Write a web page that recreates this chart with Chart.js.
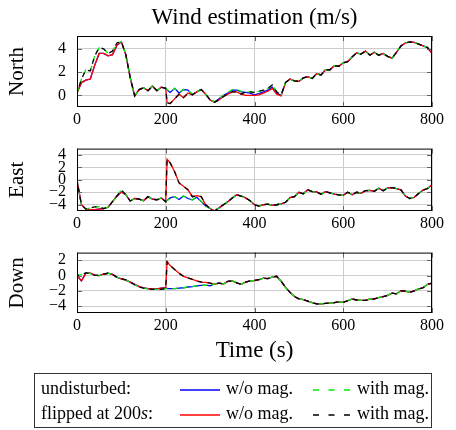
<!DOCTYPE html>
<html>
<head>
<meta charset="utf-8">
<script src="https://cdn.jsdelivr.net/npm/chart.js@4.4.1/dist/chart.umd.min.js"></script>
<style>
  body { margin: 0; background: #fff; width: 456px; height: 430px; position: relative; overflow: hidden;
         font-family: "Liberation Serif", "DejaVu Serif", serif; }
  canvas { position: absolute; left: 0; }
  #legend { position: absolute; left: 34px; top: 373px; width: 398px; height: 55px;
            border: 1px solid #333; box-sizing: border-box; }
  .lt { position: absolute; font-size: 18px; line-height: 20px; white-space: nowrap; color: #000; }
  #legend svg { position: absolute; }
</style>
</head>
<body>
<canvas id="north" width="456" height="129" style="top:0px"></canvas>
<canvas id="east" width="456" height="105" style="top:128px"></canvas>
<canvas id="down" width="456" height="133" style="top:232px"></canvas>
<div id="legend"></div>

<script>
// time axis (s)
const time = [0,10,20,30,40,50,60,70,80,90,100,110,120,130,140,150,160,170,180,190,
  200,203,210,220,230,240,250,260,270,280,290,300,310,320,330,340,350,360,370,380,390,
  400,410,420,430,440,450,460,470,480,490,500,510,520,530,540,550,560,570,580,590,
  600,610,620,630,640,650,660,670,680,690,700,710,720,730,740,750,760,770,780,790,800];

const timeTicks = [0, 200, 400, 600, 800];
const northTicks = [0, 2, 4];
const eastTicks = [-4, -2, 0, 2, 4];
const downTicks = [-4, -2, 0, 2];

// North
const northBlue = [0.2,1.1,1.3,1.4,2.6,3.6,3.6,3.4,3.5,4.3,4.6,3.5,1.5,-0.05,0.5,0.65,0.4,0.8,0.4,0.7,
  0.6,0.45,
  0.25,0.6,0.2,0.5,0.45,0.05,0.3,0.5,0.1,
  -0.4,-0.55,-0.3,0.0,0.2,0.45,0.45,0.3,0.25,0.2,
  0.05,0.15,0.3,0.45,0.7,0.2,0.0,1.1,1.4,1.25,
  1.2,1.5,1.6,1.45,1.85,1.75,2.2,2.2,2.55,2.5,
  2.8,2.9,3.3,3.65,3.55,3.8,3.45,3.7,3.45,3.6,
  3.35,3.2,3.7,4.25,4.5,4.6,4.55,4.4,4.25,4.1,
  3.6];
const northGreen = [0.2,1.4,2.2,2.1,3.4,4.1,4.0,3.6,3.8,4.5,4.6,3.5,1.5,-0.05,0.5,0.65,0.4,0.8,0.4,0.7,
  0.6,0.5,
  0.3,0.6,0.25,0.5,0.45,0.1,0.3,0.5,0.1,
  -0.4,-0.55,-0.3,0.0,0.25,0.5,0.5,0.35,0.3,0.3,
  0.25,0.35,0.45,0.6,0.9,0.3,0.05,1.1,1.4,1.25,
  1.2,1.5,1.6,1.45,1.85,1.75,2.2,2.2,2.55,2.5,
  2.8,2.9,3.3,3.65,3.55,3.8,3.45,3.7,3.45,3.6,
  3.35,3.2,3.7,4.25,4.5,4.6,4.55,4.4,4.25,4.1,
  3.6];
const northRed = [0.2,1.1,1.3,1.4,2.6,3.6,3.6,3.4,3.5,4.3,4.6,3.5,1.5,-0.05,0.5,0.65,0.4,0.8,0.4,0.7,
  0.6,-0.65,
  -0.7,-0.3,0.1,-0.2,0.2,0.05,0.3,0.5,0.1,
  -0.4,-0.6,-0.4,-0.1,0.1,0.3,0.3,0.1,0.0,0.0,
  0.0,0.05,0.2,0.35,0.6,0.1,-0.05,1.1,1.4,1.25,
  1.2,1.5,1.6,1.45,1.85,1.75,2.2,2.2,2.55,2.5,
  2.8,2.9,3.3,3.65,3.55,3.8,3.45,3.7,3.45,3.6,
  3.35,3.2,3.7,4.25,4.5,4.6,4.55,4.4,4.25,4.1,
  3.6];
const northBlack = [0.2,1.4,2.2,2.1,3.4,4.1,4.0,3.6,3.8,4.5,4.6,3.5,1.5,-0.05,0.5,0.65,0.4,0.8,0.4,0.7,
  0.6,-0.65,
  -0.7,-0.3,0.1,-0.2,0.2,0.05,0.3,0.5,0.1,
  -0.4,-0.6,-0.4,-0.1,0.1,0.3,0.3,0.1,0.3,0.3,
  0.25,0.35,0.45,0.6,0.9,0.3,0.05,1.1,1.4,1.25,
  1.2,1.5,1.6,1.45,1.85,1.75,2.2,2.2,2.55,2.5,
  2.8,2.9,3.3,3.65,3.55,3.8,3.45,3.7,3.45,3.6,
  3.35,3.2,3.7,4.25,4.5,4.6,4.55,4.4,4.25,4.1,
  3.6];

// East
const eastBlue = [-0.1,-4.0,-4.7,-4.8,-4.8,-4.7,-4.6,-4.4,-3.5,-2.6,-1.95,-2.4,-3.4,-3.0,-3.1,-3.35,-2.7,-3.1,-3.2,-2.9,
  -3.5,-3.3,
  -2.9,-2.7,-3.15,-2.6,-3.0,-3.2,-2.8,-3.5,-4.2,
  -4.6,-5.0,-4.5,-4.0,-3.5,-2.9,-2.4,-2.6,-2.9,-3.35,
  -4.0,-4.2,-4.0,-3.9,-4.1,-4.0,-3.85,-3.6,-2.85,-2.7,
  -2.0,-2.25,-1.6,-1.9,-1.95,-2.3,-1.9,-2.1,-2.3,-2.4,
  -2.5,-2.0,-2.4,-2.0,-2.15,-1.75,-1.7,-1.85,-1.35,-1.75,
  -1.3,-1.25,-1.4,-1.6,-2.6,-3.0,-2.8,-2.2,-1.65,-1.4,
  -0.8];
const eastGreen = [-0.1,-4.0,-4.7,-4.5,-4.35,-4.3,-4.6,-4.4,-3.5,-2.6,-1.6,-2.4,-3.4,-3.0,-3.1,-3.35,-2.7,-3.1,-3.2,-2.9,
  -3.5,-3.3,
  -2.9,-2.7,-3.15,-2.6,-3.0,-3.2,-2.8,-3.5,-4.2,
  -4.6,-5.0,-4.5,-4.0,-3.5,-2.9,-2.4,-2.6,-2.9,-3.35,
  -4.0,-4.2,-4.0,-3.9,-4.1,-4.0,-3.85,-3.6,-2.85,-2.7,
  -2.0,-2.25,-1.6,-1.9,-1.95,-2.3,-1.9,-2.1,-2.3,-2.4,
  -2.5,-2.0,-2.4,-2.0,-2.15,-1.75,-1.7,-1.85,-1.35,-1.75,
  -1.3,-1.25,-1.4,-1.6,-2.6,-3.0,-2.8,-2.2,-1.65,-1.4,
  -0.8];
const eastRed = [-0.1,-4.0,-4.7,-4.8,-4.8,-4.7,-4.6,-4.4,-3.5,-2.6,-1.95,-2.4,-3.4,-3.0,-3.1,-3.35,-2.7,-3.1,-3.2,-2.9,
  -3.5,3.3,
  2.7,1.3,-0.5,-1.05,-1.6,-2.7,-2.55,-2.7,-4.0,
  -4.6,-5.0,-4.5,-4.0,-3.5,-2.9,-2.4,-2.6,-2.9,-3.35,
  -4.0,-4.2,-4.0,-3.9,-4.1,-4.0,-3.85,-3.6,-2.85,-2.7,
  -2.0,-2.25,-1.6,-1.9,-1.95,-2.3,-1.9,-2.1,-2.3,-2.4,
  -2.5,-2.0,-2.4,-2.0,-2.15,-1.75,-1.7,-1.85,-1.35,-1.75,
  -1.3,-1.25,-1.4,-1.6,-2.6,-3.0,-2.8,-2.2,-1.65,-1.4,
  -0.8];
const eastBlack = [-0.1,-4.0,-4.7,-4.5,-4.35,-4.3,-4.6,-4.4,-3.5,-2.6,-1.6,-2.4,-3.4,-3.0,-3.1,-3.35,-2.7,-3.1,-3.2,-2.9,
  -3.5,3.3,
  2.7,1.3,-0.5,-1.05,-1.6,-2.7,-2.55,-2.7,-4.0,
  -4.6,-5.0,-4.5,-4.0,-3.5,-2.9,-2.4,-2.6,-2.9,-3.35,
  -4.0,-4.2,-4.0,-3.9,-4.1,-4.0,-3.85,-3.6,-2.85,-2.7,
  -2.0,-2.25,-1.6,-1.9,-1.95,-2.3,-1.9,-2.1,-2.3,-2.4,
  -2.5,-2.0,-2.4,-2.0,-2.15,-1.75,-1.7,-1.85,-1.35,-1.75,
  -1.3,-1.25,-1.4,-1.6,-2.6,-3.0,-2.8,-2.2,-1.65,-1.4,
  -0.8];

// Down
const downBlue = [0.0,-0.7,0.3,0.3,0.05,0.0,0.2,0.3,0.15,-0.2,-0.45,-0.6,-0.85,-1.15,-1.45,-1.6,-1.7,-1.75,-1.75,-1.65,
  -1.6,-1.7,
  -1.7,-1.7,-1.65,-1.6,-1.5,-1.45,-1.35,-1.3,-1.25,
  -1.35,-1.1,-1.0,-1.1,-0.75,-0.7,-0.95,-1.15,-0.85,-0.7,
  -0.65,-0.55,-0.35,-0.4,-0.2,-0.1,-0.75,-1.55,-2.2,-2.75,
  -3.05,-3.15,-3.35,-3.55,-3.7,-3.7,-3.65,-3.6,-3.55,-3.45,
  -3.5,-3.3,-3.05,-3.2,-3.25,-3.25,-3.1,-3.05,-2.9,-2.75,
  -2.6,-2.3,-2.4,-2.0,-2.05,-2.2,-2.0,-1.75,-1.6,-1.15,
  -1.0];
const downGreen = [0.0,0.15,0.35,0.25,0.05,0.0,0.2,0.3,0.15,-0.25,-0.4,-0.55,-0.9,-1.2,-1.5,-1.65,-1.75,-1.8,-1.8,-1.8,
  -1.7,-1.7,
  -1.7,-1.7,-1.65,-1.6,-1.5,-1.45,-1.35,-1.3,-1.25,
  -1.35,-1.1,-1.0,-1.1,-0.75,-0.7,-0.95,-1.15,-0.85,-0.7,
  -0.65,-0.55,-0.35,-0.4,-0.2,-0.1,-0.75,-1.55,-2.2,-2.75,
  -3.05,-3.15,-3.35,-3.55,-3.7,-3.7,-3.65,-3.6,-3.55,-3.45,
  -3.5,-3.3,-3.05,-3.2,-3.25,-3.25,-3.1,-3.05,-2.9,-2.75,
  -2.6,-2.3,-2.4,-2.0,-2.05,-2.2,-2.0,-1.75,-1.6,-1.15,
  -1.0];
const downRed = [0.0,-0.7,0.3,0.3,0.05,0.0,0.2,0.3,0.15,-0.2,-0.45,-0.6,-0.85,-1.15,-1.45,-1.6,-1.7,-1.75,-1.75,-1.65,
  -1.6,1.8,
  1.3,0.8,0.3,-0.1,-0.3,-0.5,-0.7,-0.85,-0.9,
  -1.0,-1.15,-1.0,-1.1,-0.75,-0.7,-0.95,-1.15,-0.85,-0.7,
  -0.65,-0.55,-0.35,-0.4,-0.2,-0.1,-0.75,-1.55,-2.2,-2.75,
  -3.05,-3.15,-3.35,-3.55,-3.7,-3.7,-3.65,-3.6,-3.55,-3.45,
  -3.5,-3.3,-3.05,-3.2,-3.25,-3.25,-3.1,-3.05,-2.9,-2.75,
  -2.6,-2.3,-2.4,-2.0,-2.05,-2.2,-2.0,-1.75,-1.6,-1.15,
  -1.0];
const downBlack = [0.0,0.15,0.35,0.25,0.05,0.0,0.2,0.3,0.15,-0.25,-0.4,-0.55,-0.9,-1.2,-1.5,-1.65,-1.75,-1.8,-1.8,-1.8,
  -1.7,1.8,
  1.3,0.8,0.3,-0.1,-0.3,-0.5,-0.7,-0.85,-0.9,
  -1.0,-1.15,-1.0,-1.1,-0.75,-0.7,-0.95,-1.15,-0.85,-0.7,
  -0.65,-0.55,-0.35,-0.4,-0.2,-0.1,-0.75,-1.55,-2.2,-2.75,
  -3.05,-3.15,-3.35,-3.55,-3.7,-3.7,-3.65,-3.6,-3.55,-3.45,
  -3.5,-3.3,-3.05,-3.2,-3.25,-3.25,-3.1,-3.05,-2.9,-2.75,
  -2.6,-2.3,-2.4,-2.0,-2.05,-2.2,-2.0,-1.75,-1.6,-1.15,
  -1.0];

const legendRows = ['undisturbed:', 'flipped at 200<i>s</i>:'];
const legendItems = [
  [{ label: 'w/o mag.', color: '#0000ff', dash: '' }, { label: 'with mag.', color: '#00ee00', dash: '6 9.5' }],
  [{ label: 'w/o mag.', color: '#ff0000', dash: '' }, { label: 'with mag.', color: '#000000', dash: '6 9.5' }]
];

const FONT = '"Liberation Serif", "DejaVu Serif", serif';

function pts(vals) {
  return time.map((t, i) => ({ x: t, y: vals[i] }));
}

function line(vals, color, dash, offset) {
  return {
    data: pts(vals),
    borderColor: color,
    borderWidth: 1.3,
    borderDash: dash || [],
    borderDashOffset: offset || 0,
    pointRadius: 0,
    tension: 0,
    fill: false
  };
}

const minus = v => String(v).replace('-', '\u2212');

// box round the plot plus small inner tick marks, like pgfplots
const framePlugin = {
  id: 'frame',
  afterDatasetsDraw(chart) {
    const { ctx, chartArea: a, scales } = chart;
    ctx.save();
    ctx.strokeStyle = '#666';
    ctx.lineWidth = 1;
    ctx.beginPath();
    scales.y.ticks.forEach(t => {
      const y = Math.round(scales.y.getPixelForValue(t.value)) + 0.5;
      ctx.moveTo(a.left, y); ctx.lineTo(a.left + 5, y);
      ctx.moveTo(a.right - 5, y); ctx.lineTo(a.right, y);
    });
    scales.x.ticks.forEach(t => {
      const x = Math.round(scales.x.getPixelForValue(t.value)) + 0.5;
      ctx.moveTo(x, a.top); ctx.lineTo(x, a.top + 5);
      ctx.moveTo(x, a.bottom - 5); ctx.lineTo(x, a.bottom);
    });
    ctx.stroke();
    ctx.strokeStyle = '#000';
    ctx.strokeRect(a.left + 0.5, a.top + 0.5, a.right - a.left - 1, a.bottom - a.top - 1);
    ctx.restore();
  }
};

function panel(id, name, blue, red, green, black, yMin, yMax, yTicks, cfg) {
  return new Chart(document.getElementById(id), {
    type: 'line',
    data: {
      // chart.js paints the first dataset on top, so black goes first
      datasets: [
        line(black, '#000000', [5, 5], 3),
        line(green, '#00ee00', [5, 5], 0),
        line(red, '#ff0000'),
        line(blue, '#0000ff')
      ]
    },
    options: {
      responsive: false,
      animation: false,
      layout: { padding: { left: 0, right: 24, top: cfg.top, bottom: 0 } },
      plugins: {
        legend: { display: false },
        tooltip: { enabled: false },
        title: {
          display: !!cfg.title,
          text: cfg.title || '',
          fullSize: false,
          color: '#000',
          font: { family: FONT, size: 23, weight: 'normal' },
          padding: { top: 4, bottom: 4.4 }
        }
      },
      scales: {
        x: {
          type: 'linear',
          min: 0,
          max: 800,
          afterBuildTicks: s => { s.ticks = timeTicks.map(v => ({ value: v })); },
          afterFit: s => { s.height = cfg.xh; },
          grid: { color: '#cccccc', lineWidth: 1, drawTicks: false },
          border: { display: false },
          ticks: { color: '#000', padding: 3, maxRotation: 0, autoSkip: false, font: { family: FONT, size: 16 } },
          title: {
            display: !!cfg.xTitle,
            text: cfg.xTitle || '',
            color: '#000',
            font: { family: FONT, size: 23 },
            padding: { top: 0, bottom: 0 }
          }
        },
        y: {
          min: yMin,
          max: yMax,
          afterBuildTicks: s => { s.ticks = yTicks.map(v => ({ value: v })); },
          afterFit: s => { s.width = 77; },
          grid: { color: '#cccccc', lineWidth: 1, drawTicks: false },
          border: { display: false },
          ticks: { color: '#000', padding: 11, autoSkip: false, callback: minus, font: { family: FONT, size: 16 } },
          title: {
            display: true,
            text: name,
            color: '#000',
            font: { family: FONT, size: 21 },
            padding: { top: 5, bottom: 0 }
          }
        }
      }
    },
    plugins: [framePlugin]
  });
}

panel('north', 'North', northBlue, northRed, northGreen, northBlack, -1, 5.1, northTicks,
  { top: 0, xh: 22, title: 'Wind estimation (m/s)' });
panel('east', 'East', eastBlue, eastRed, eastGreen, eastBlack, -5, 5, eastTicks,
  { top: 12, xh: 22 });
panel('down', 'Down', downBlue, downRed, downGreen, downBlack, -4.9, 3, downTicks,
  { top: 12, xh: 52, xTitle: 'Time (s)' });

// legend box
const legend = document.getElementById('legend');
const rowTop = [4, 29];
const sampleLeft = [145, 278];
const sampleWidth = [40, 37];
const textLeft = [191, 322];
legendRows.forEach((label, r) => {
  const d = document.createElement('div');
  d.className = 'lt';
  d.style.left = '6px';
  d.style.top = rowTop[r] + 'px';
  d.innerHTML = label;
  legend.appendChild(d);
  legendItems[r].forEach((it, c) => {
    const w = sampleWidth[c];
    const svg = document.createElementNS('http://www.w3.org/2000/svg', 'svg');
    svg.setAttribute('width', w);
    svg.setAttribute('height', 4);
    svg.style.left = sampleLeft[c] + 'px';
    svg.style.top = (rowTop[r] + 10) + 'px';
    const ln = document.createElementNS('http://www.w3.org/2000/svg', 'line');
    ln.setAttribute('x1', 0); ln.setAttribute('y1', 2);
    ln.setAttribute('x2', w); ln.setAttribute('y2', 2);
    ln.setAttribute('stroke', it.color);
    ln.setAttribute('stroke-width', 1.5);
    if (it.dash) ln.setAttribute('stroke-dasharray', it.dash);
    svg.appendChild(ln);
    legend.appendChild(svg);
    const t = document.createElement('div');
    t.className = 'lt';
    t.style.left = textLeft[c] + 'px';
    t.style.top = rowTop[r] + 'px';
    t.textContent = it.label;
    legend.appendChild(t);
  });
});
</script>
</body>
</html>
